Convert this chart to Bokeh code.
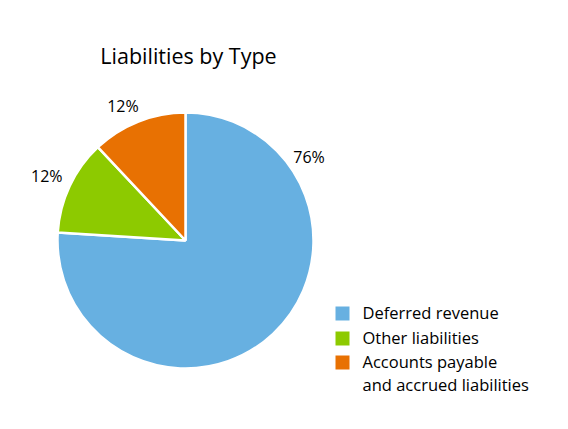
import math
from bokeh.plotting import figure
from bokeh.models import Range1d, ColumnDataSource
from bokeh.core.properties import value
from bokeh.embed import file_html
from bokeh.resources import INLINE

# ---- data ----
categories = ["Deferred revenue", "Other liabilities", "Accounts payable\nand accrued liabilities"]
shares = [76, 12, 12]
pct_labels = ["76%", "12%", "12%"]
colors = ["#67b0e1", "#8dca00", "#e87102"]
title_text = "Liabilities by Type"

# ---- layout ----
W, H = 552, 413
FONT = "Open Sans"

def X(px):  # page x -> data x
    return px

def Y(py):  # page y -> data y
    return H - py

cx, cy, R = X(185), Y(240), 128
label_angles = [34, 155, 115]   # degrees, label placement
label_dist = [149, 153, 148]

p = figure(width=W, height=H, output_backend="svg", toolbar_location=None,
           x_range=Range1d(0, W), y_range=Range1d(0, H), min_border=0)
p.axis.visible = False
p.grid.visible = False
p.outline_line_color = None
p.background_fill_color = "white"
p.border_fill_color = "white"

total = sum(shares)
starts, ends = [], []
a = 90.0
for s in shares:
    starts.append(math.radians(a))
    a -= 360.0 * s / total
    ends.append(math.radians(a))

src = ColumnDataSource(dict(start=starts, end=ends, color=colors))
p.wedge(x=cx, y=cy, radius=R, start_angle="start", end_angle="end", direction="clock",
        fill_color="color", line_color="white", line_width=2.5, source=src)

# percentage labels
lx = [cx + d * math.cos(math.radians(t)) for d, t in zip(label_dist, label_angles)]
ly = [cy + d * math.sin(math.radians(t)) for d, t in zip(label_dist, label_angles)]
p.text(x=lx, y=ly, text=pct_labels, text_font=value(FONT), text_font_size="16px",
       text_align="center", text_baseline="middle", text_color="#000000")

# title
p.text(x=[X(188)], y=[Y(55)], text=[title_text], text_font=value(FONT),
       text_font_size="21.5px", text_align="center", text_baseline="middle", text_color="#000000")

# legend (manual)
leg_row_y = [Y(313), Y(338), Y(362)]
p.rect(x=[X(342)] * 3, y=leg_row_y, width=14, height=14, width_units="screen",
       height_units="screen", fill_color=colors, line_color=None)
p.text(x=[X(362)] * 3, y=[y + 12.5 for y in leg_row_y], text=categories, text_font=value(FONT),
       text_font_size="16.5px", text_align="left", text_baseline="top",
       text_line_height=1.0, text_color="#000000")

open("out.html", "w").write(file_html(p, INLINE))
